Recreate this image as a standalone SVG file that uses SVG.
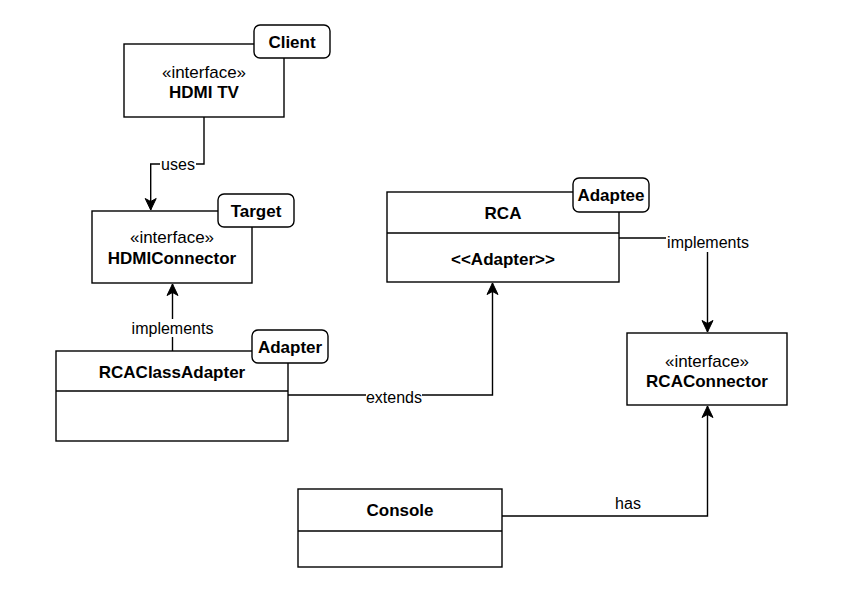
<svg xmlns="http://www.w3.org/2000/svg" width="841" height="602" viewBox="0 0 841 602">
<style>
.box{fill:#fff;stroke:#000;stroke-width:1.4}
.tag{fill:#fff;stroke:#000;stroke-width:1.4}
.edge{fill:none;stroke:#000;stroke-width:1.4}
.t{font-family:"Liberation Sans",Arial,Helvetica,sans-serif;font-size:17px;text-anchor:middle;fill:#000}
.b{font-weight:bold}
.lbl{font-family:"Liberation Sans",Arial,Helvetica,sans-serif;font-size:16px;text-anchor:middle;fill:#000}
.lblbg{fill:#fff}
</style>
<defs>
<marker id="arr" markerWidth="14" markerHeight="14" viewBox="0 0 14 14" refX="13" refY="7" orient="auto" markerUnits="userSpaceOnUse">
<path d="M1.5,1.5 L13,7 L1.5,12.5 L4.5,7 Z" fill="#000" stroke="#000" stroke-width="1"/>
</marker>
</defs>
<g id="connectors">
<path class="edge" d="M204,117 V164 H150.7 V210" marker-end="url(#arr)"/>
<rect class="lblbg" x="160" y="155" width="36" height="18"/>
<text class="lbl" x="178" y="169.5">uses</text>
<path class="edge" d="M172.5,351 V284" marker-end="url(#arr)"/>
<rect class="lblbg" x="131" y="319" width="83" height="18"/>
<text class="lbl" x="172.5" y="333.5">implements</text>
<path class="edge" d="M288,395 H492.5 V283" marker-end="url(#arr)"/>
<rect class="lblbg" x="366" y="388" width="56" height="18"/>
<text class="lbl" x="394" y="402.5">extends</text>
<path class="edge" d="M619,238 H707.5 V332" marker-end="url(#arr)"/>
<rect class="lblbg" x="666" y="234" width="84" height="18"/>
<text class="lbl" x="708" y="248">implements</text>
<path class="edge" d="M502,516 H707.5 V406" marker-end="url(#arr)"/>
<text class="lbl" x="628" y="508.5">has</text>
</g>
<g id="hdmitv">
<rect class="box" x="124" y="44" width="160" height="73"/>
<text class="t" x="204" y="78">«interface»</text>
<text class="t b" x="204" y="98">HDMI TV</text>
</g>
<g id="client-tag">
<rect class="tag" x="254" y="25" width="76" height="33" rx="6"/>
<text class="t b" x="292" y="47.5">Client</text>
</g>
<g id="hdmiconnector">
<rect class="box" x="92" y="211" width="160" height="72"/>
<text class="t" x="172" y="243">«interface»</text>
<text class="t b" x="172" y="264">HDMIConnector</text>
</g>
<g id="target-tag">
<rect class="tag" x="218" y="194" width="76" height="33" rx="6"/>
<text class="t b" x="256" y="216.5">Target</text>
</g>
<g id="rcaclassadapter">
<rect class="box" x="56" y="351" width="232" height="90"/>
<line class="box" x1="56" y1="391" x2="288" y2="391"/>
<text class="t b" x="172" y="378">RCAClassAdapter</text>
</g>
<g id="adapter-tag">
<rect class="tag" x="252" y="330" width="76" height="33" rx="6"/>
<text class="t b" x="290" y="352.5">Adapter</text>
</g>
<g id="rca">
<rect class="box" x="387" y="192" width="232" height="90"/>
<line class="box" x1="387" y1="233" x2="619" y2="233"/>
<text class="t b" x="503" y="219">RCA</text>
<text class="t b" x="503" y="265">&lt;&lt;Adapter&gt;&gt;</text>
</g>
<g id="adaptee-tag">
<rect class="tag" x="573" y="178" width="76" height="34" rx="6"/>
<text class="t b" x="611" y="201">Adaptee</text>
</g>
<g id="rcaconnector">
<rect class="box" x="627" y="333" width="160" height="72"/>
<text class="t" x="707" y="367">«interface»</text>
<text class="t b" x="707" y="387">RCAConnector</text>
</g>
<g id="console">
<rect class="box" x="298" y="489" width="204" height="78"/>
<line class="box" x1="298" y1="531" x2="502" y2="531"/>
<text class="t b" x="400" y="516">Console</text>
</g>
</svg>
